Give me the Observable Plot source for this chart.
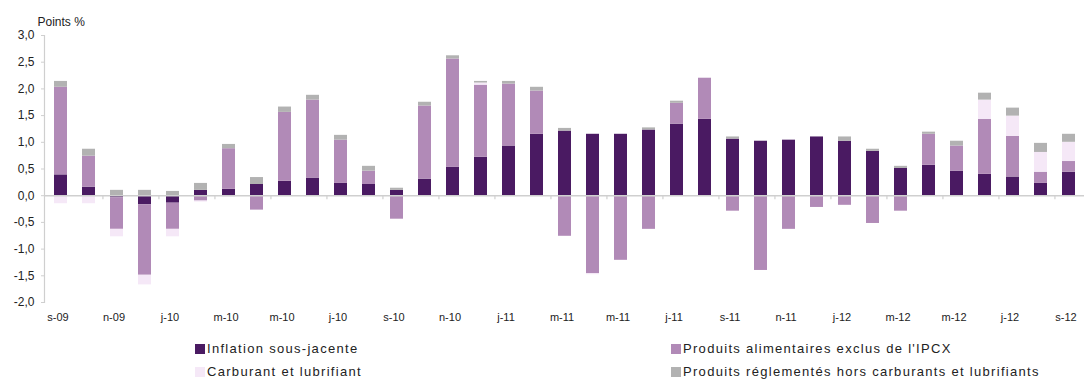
<!DOCTYPE html>
<html>
<head>
<meta charset="utf-8">
<script src="https://cdn.jsdelivr.net/npm/d3@7"></script>
<script src="https://cdn.jsdelivr.net/npm/@observablehq/plot@0.6"></script>
<style>
  html, body { margin: 0; padding: 0; background: #fff; }
  body { width: 1086px; height: 381px; position: relative; overflow: hidden; font-family: "Liberation Sans", Arial, sans-serif; }
  #chart { position: absolute; left: 0; top: 0; }
  .leg { position: absolute; font-size: 13px; letter-spacing: 1.3px; color: #222; line-height: 14px; white-space: nowrap; }
  .leg span.sw { display: inline-block; width: 10px; height: 10px; margin-right: 2px; vertical-align: -1px; }
</style>
</head>
<body>
<div id="chart"></div>
<div id="legend"></div>
<script>
// ---- Data ----
const months = ["2009-09","2009-10","2009-11","2009-12","2010-01","2010-02","2010-03","2010-04","2010-05","2010-06","2010-07","2010-08","2010-09","2010-10","2010-11","2010-12","2011-01","2011-02","2011-03","2011-04","2011-05","2011-06","2011-07","2011-08","2011-09","2011-10","2011-11","2011-12","2012-01","2012-02","2012-03","2012-04","2012-05","2012-06","2012-07","2012-08","2012-09"];
const tickLabels = ["s-09","n-09","j-10","m-10","m-10","j-10","s-10","n-10","j-11","m-11","m-11","j-11","s-11","n-11","j-12","m-12","m-12","j-12","s-12"];
const seriesNames = ["Inflation sous-jacente","Produits alimentaires exclus de l'IPCX","Carburant et lubrifiant","Produits réglementés hors carburants et lubrifiants"];
const seriesColors = ["#4a1a62","#b18ab7","#f5e8f7","#b2b2b2"];
const core = [0.39,0.16,-0.04,-0.17,-0.14,0.10,0.12,0.21,0.27,0.33,0.23,0.21,0.10,0.31,0.53,0.72,0.93,1.15,1.21,1.15,1.15,1.23,1.34,1.43,1.06,1.02,1.04,1.10,1.02,0.83,0.51,0.57,0.46,0.40,0.35,0.23,0.44];
const food = [1.64,0.58,-0.59,-1.32,-0.49,-0.10,0.76,-0.27,1.29,1.46,0.81,0.25,-0.44,1.37,2.03,1.35,1.16,0.81,-0.76,-1.46,-1.21,-0.63,0.39,0.77,-0.29,-1.40,-0.63,-0.22,-0.18,-0.52,-0.29,0.58,0.47,1.03,0.76,0.21,0.20];
const fuel = [-0.15,-0.15,-0.14,-0.18,-0.14,-0.02,-0.03,0,-0.01,0,0,0,0,0,0,0.04,0,0,0,-0.02,0,0,0,0,0,0,0,0,0,0,0,0,0,0.36,0.38,0.37,0.36];
const regulated = [0.11,0.13,0.10,0.10,0.08,0.13,0.08,0.13,0.10,0.09,0.09,0.09,0.04,0.07,0.06,0.03,0.05,0.07,0.05,0,0,0.04,0.04,0,0.04,0,0,0,0.08,0.04,0.04,0.04,0.09,0.13,0.15,0.17,0.15];
const yTicks = [-2,-1.5,-1,-0.5,0,0.5,1,1.5,2,2.5,3];

// ---- Build table ----
const seriesValues = [core, food, fuel, regulated];
const rows = [];
months.forEach((m, i) => {
  seriesNames.forEach((s, k) => rows.push({month: m, series: s, value: seriesValues[k][i]}));
});
const labelOf = new Map(months.filter((m, i) => i % 2 === 0).map((m, j) => [m, tickLabels[j]]));
const boundaryMonths = months.filter((m, i) => i % 2 === 0 && i > 0);

const W = 1086, H = 336, mL = 44, mR = 2, mT = 35, mB = 34;
const pInner = 0.538, pOuter = 0.249;
const step = (W - mL - mR) / (months.length - pInner + 2 * pOuter);
const fmt = d => d.toFixed(1).replace(".", ",");

const chart = Plot.plot({
  width: W, height: H,
  marginLeft: mL, marginRight: mR, marginTop: mT, marginBottom: mB,
  style: {fontFamily: "Liberation Sans, Arial, sans-serif", color: "#222", background: "#fff"},
  x: {domain: months, paddingInner: pInner, paddingOuter: pOuter, axis: null},
  y: {domain: [-2, 3], axis: null},
  color: {domain: seriesNames, range: seriesColors},
  marks: [
    Plot.barY(rows, Plot.stackY({x: "month", y: "value", fill: "series", order: seriesNames})),
    Plot.ruleY([0], {stroke: "#cfcfcf", strokeWidth: 1.5}),
    Plot.ruleX(boundaryMonths, {x: d => d, y1: 0, y2: -0.075, dx: -step / 2, stroke: "#cfcfcf", strokeWidth: 1.2}),
    Plot.frame({anchor: "left", stroke: "#cfcfcf", strokeWidth: 1.2}),
    Plot.axisY({ticks: yTicks, tickFormat: fmt, tickSize: 3, tickPadding: 7, stroke: "#cfcfcf", fontSize: 12, label: null, style: {letterSpacing: "1.2px"}}),
    Plot.axisX({ticks: [...labelOf.keys()], tickFormat: d => labelOf.get(d), tickSize: 0, tickPadding: 11, fontSize: 11, label: null, dx: -3, fill: "#222", style: {letterSpacing: "0.6px"}}),
    Plot.text(["Points %"], {frameAnchor: "top-left", dx: -7, dy: -18, fontSize: 12, textAnchor: "start", fill: "#222", style: {letterSpacing: "0.6px"}})
  ]
});
document.getElementById("chart").appendChild(chart);

// ---- Legend ----
const legendPos = [[195, 342], [671, 342], [195, 365], [671, 365]];
const legend = document.getElementById("legend");
seriesNames.forEach((name, k) => {
  const div = document.createElement("div");
  div.className = "leg";
  div.style.left = legendPos[k][0] + "px";
  div.style.top = legendPos[k][1] + "px";
  const sw = document.createElement("span");
  sw.className = "sw";
  sw.style.background = seriesColors[k];
  div.appendChild(sw);
  div.appendChild(document.createTextNode(name));
  legend.appendChild(div);
});
</script>
</body>
</html>
